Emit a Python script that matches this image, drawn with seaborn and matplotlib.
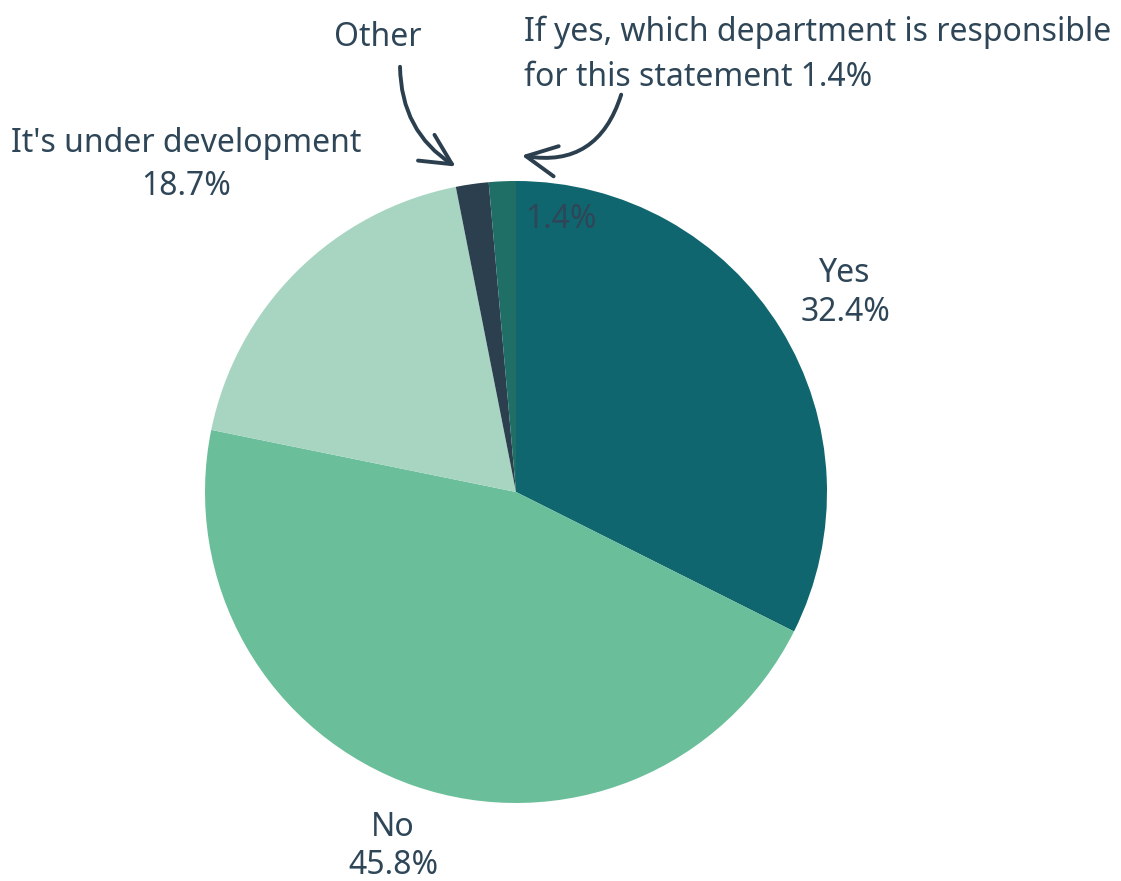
import matplotlib
matplotlib.use("Agg")
import matplotlib.pyplot as plt
import seaborn as sns
from matplotlib.patches import FancyArrowPatch

sns.set_theme(style="white")
plt.rcParams["font.family"] = ["Noto Sans", "DejaVu Sans"]

# Survey responses
categories = ["Yes", "No", "It's under development", "Other",
              "If yes, which department is responsible\nfor this statement"]
shares = [32.4, 45.8, 18.7, 1.7, 1.4]
colors = ["#10666F", "#6ABF9A", "#A7D5C2", "#2B3F4E", "#1F6F67"]

text_color = "#2E4657"

W, H = 1121, 881
fig = plt.figure(figsize=(W / 100, H / 100), dpi=100)
ax = fig.add_axes([0, 0, 1, 1])

cx, cy, r = 516, H - 492, 311
ax.pie(shares, colors=colors, startangle=90, counterclock=False,
       center=(cx, cy), radius=r, frame=True,
       wedgeprops=dict(linewidth=0))
ax.set_xlim(0, W)
ax.set_ylim(0, H)
ax.set_aspect("equal")
ax.axis("off")

fs = 23
# Outer labels
ax.text(845, H - 293, f"{categories[0]}\n{shares[0]}%", ha="center", va="center",
        fontsize=fs, color=text_color, linespacing=1.25)
ax.text(393, H - 847, f"{categories[1]}\n{shares[1]}%", ha="center", va="center",
        fontsize=fs, color=text_color, linespacing=1.2)
ax.text(186, H - 165, f"{categories[2]}\n{shares[2]}%", ha="center", va="center",
        fontsize=fs, color=text_color, linespacing=1.42)
ax.text(378, H - 38, categories[3], ha="center", va="center",
        fontsize=fs, color=text_color)
ax.text(524, H - 55, f"{categories[4]} {shares[4]}%", ha="left", va="center",
        fontsize=fs, color=text_color, linespacing=1.5)
# Value printed inside the top of the pie
ax.text(561, H - 220, f"{shares[4]}%", ha="center", va="center",
        fontsize=fs, color=text_color)

# Curved callout arrows
arrow_kw = dict(arrowstyle="->,head_length=1.0,head_width=0.5",
                color="#2B3F4E", lw=2.8, mutation_scale=22,
                capstyle="round", joinstyle="round")
ax.add_patch(FancyArrowPatch((400, H - 64), (458, H - 168),
                             connectionstyle="arc3,rad=0.28", **arrow_kw))
ax.add_patch(FancyArrowPatch((622, H - 92), (519, H - 155),
                             connectionstyle="arc3,rad=-0.45", **arrow_kw))

fig.savefig("out.png", dpi=100, facecolor="white")
